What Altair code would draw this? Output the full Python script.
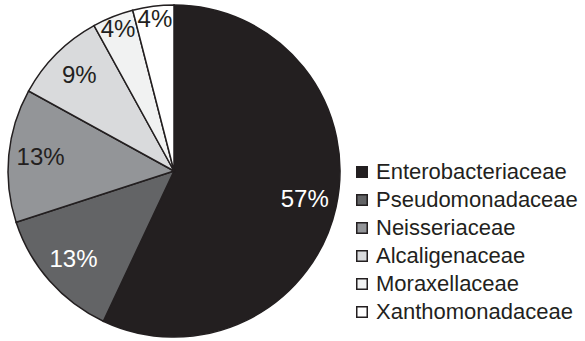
import altair as alt
import pandas as pd

families = ["Enterobacteriaceae", "Pseudomonadaceae", "Neisseriaceae",
            "Alcaligenaceae", "Moraxellaceae", "Xanthomonadaceae"]
percents = [57, 13, 13, 9, 4, 4]
fills = ["#231f20", "#636466", "#939598", "#d9dadc", "#f1f2f2", "#ffffff"]
label_colors = ["#ffffff", "#ffffff", "#231f20", "#231f20", "#231f20", "#231f20"]

df = pd.DataFrame({
    "family": families,
    "pct": percents,
    "order": list(range(len(families))),
    "label": [f"{p}%" for p in percents],
})

base = alt.Chart(df).encode(
    theta=alt.Theta("pct:Q", stack=True),
    order=alt.Order("order:Q"),
    x=alt.value(174),
    y=alt.value(171),
)

arcs = base.mark_arc(outerRadius=166, stroke="#231f20", strokeWidth=1.5).encode(
    color=alt.Color(
        "family:N",
        scale=alt.Scale(domain=families, range=fills),
        sort=families,
        legend=alt.Legend(
            title=None,
            orient="none",
            legendX=351,
            legendY=161,
            symbolType="square",
            symbolSize=110,
            symbolStrokeColor="#231f20",
            symbolStrokeWidth=1.5,
            labelFont="Liberation Sans",
            labelFontSize=22,
            labelColor="#231f20",
            labelOffset=3,
            rowPadding=6,
            labelLimit=300,
        ),
    )
)

text_color = alt.Color("family:N", scale=alt.Scale(domain=families, range=label_colors), legend=None)

texts = base.mark_text(radius=134, font="Liberation Sans", fontSize=24).encode(
    text="label:N",
    color=text_color,
    opacity=alt.condition("datum.pct >= 5", alt.value(1), alt.value(0)),
)

texts_small = base.mark_text(radius=152, font="Liberation Sans", fontSize=24).encode(
    text="label:N",
    color=text_color,
    opacity=alt.condition("datum.pct < 5", alt.value(1), alt.value(0)),
)

chart = (
    alt.layer(arcs, texts, texts_small)
    .resolve_scale(color="independent")
    .properties(width=585, height=341, autosize=alt.AutoSizeParams(type="none"), padding=0)
    .configure_view(stroke=None)
)

chart.save("out.html", embed_options={"renderer": "svg", "actions": False})
